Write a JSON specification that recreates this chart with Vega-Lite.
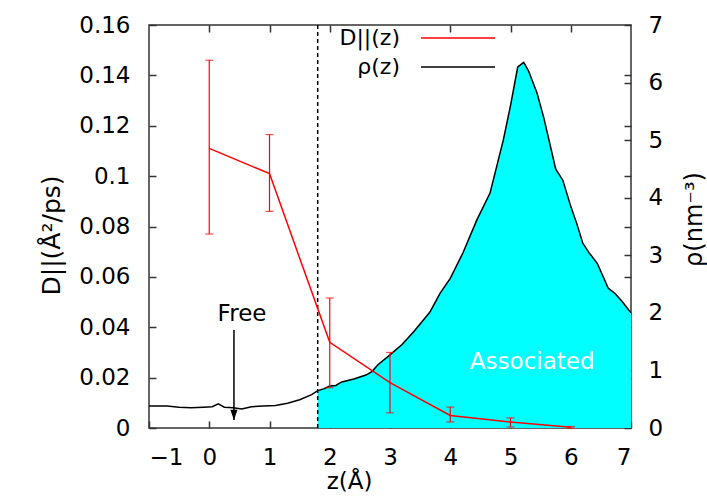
{
  "$schema": "https://vega.github.io/schema/vega-lite/v6.json",
  "width": 482,
  "height": 403,
  "autosize": "none",
  "padding": {"left": 149, "top": 25, "right": 76, "bottom": 70},
  "background": "white",
  "config": {
    "font": "DejaVu Sans",
    "view": {"stroke": "#333333", "strokeWidth": 1.5},
    "axis": {
      "labelFont": "DejaVu Sans", "labelFontSize": 23, "labelColor": "black", "labelOverlap": false,
      "titleFont": "DejaVu Sans", "titleFontWeight": "normal", "titleColor": "black", "titleFontSize": 23,
      "domain": false, "grid": false, "tickColor": "#333333", "tickSize": -7, "tickWidth": 1.5
    }
  },
  "datasets": {
    "rho": [
      {"z": -1.0, "rho": 0.38}, {"z": -0.85, "rho": 0.38}, {"z": -0.7, "rho": 0.38}, {"z": -0.5, "rho": 0.36},
      {"z": -0.3, "rho": 0.35}, {"z": -0.1, "rho": 0.36}, {"z": 0.05, "rho": 0.37}, {"z": 0.15, "rho": 0.42},
      {"z": 0.25, "rho": 0.36}, {"z": 0.4, "rho": 0.35}, {"z": 0.54, "rho": 0.33}, {"z": 0.7, "rho": 0.37},
      {"z": 0.9, "rho": 0.38}, {"z": 1.1, "rho": 0.39}, {"z": 1.3, "rho": 0.43}, {"z": 1.5, "rho": 0.49},
      {"z": 1.7, "rho": 0.58}, {"z": 1.8, "rho": 0.65}, {"z": 1.9, "rho": 0.68}, {"z": 2.0, "rho": 0.73},
      {"z": 2.1, "rho": 0.74}, {"z": 2.2, "rho": 0.8}, {"z": 2.4, "rho": 0.85}, {"z": 2.6, "rho": 0.92},
      {"z": 2.7, "rho": 0.98}, {"z": 2.8, "rho": 1.1}, {"z": 3.0, "rho": 1.27}, {"z": 3.2, "rho": 1.45},
      {"z": 3.4, "rho": 1.68}, {"z": 3.66, "rho": 2.01}, {"z": 3.83, "rho": 2.34}, {"z": 4.0, "rho": 2.6},
      {"z": 4.21, "rho": 3.04}, {"z": 4.44, "rho": 3.61}, {"z": 4.66, "rho": 4.08}, {"z": 4.88, "rho": 5.0},
      {"z": 5.0, "rho": 5.6}, {"z": 5.12, "rho": 6.27}, {"z": 5.22, "rho": 6.35}, {"z": 5.3, "rho": 6.2},
      {"z": 5.44, "rho": 5.82}, {"z": 5.55, "rho": 5.4}, {"z": 5.65, "rho": 4.95}, {"z": 5.75, "rho": 4.5},
      {"z": 5.87, "rho": 4.3}, {"z": 6.0, "rho": 3.85}, {"z": 6.1, "rho": 3.55}, {"z": 6.2, "rho": 3.21},
      {"z": 6.3, "rho": 3.05}, {"z": 6.44, "rho": 2.86}, {"z": 6.55, "rho": 2.6}, {"z": 6.62, "rho": 2.43},
      {"z": 6.73, "rho": 2.34}, {"z": 6.85, "rho": 2.2}, {"z": 7.0, "rho": 2.0}
    ],
    "diff": [
      {"z": 0, "D": 0.111, "lo": 0.077, "hi": 0.146},
      {"z": 1, "D": 0.101, "lo": 0.086, "hi": 0.1165},
      {"z": 2, "D": 0.034, "lo": 0.016, "hi": 0.0516},
      {"z": 3, "D": 0.018, "lo": 0.006, "hi": 0.030},
      {"z": 4, "D": 0.005, "lo": 0.0024, "hi": 0.0083},
      {"z": 5, "D": 0.0024, "lo": 0.0004, "hi": 0.004},
      {"z": 6, "D": 0.0003, "lo": 0.0, "hi": 0.0006}
    ],
    "cut": [{"z": 1.8}],
    "free": [{"label": "Free", "z": 0.544, "D": 0.0453, "top": 0.0389, "tip": 0.0032}],
    "assoc": [{"label": "Associated", "z": 5.36, "rho": 1.15}]
  },
  "resolve": {"scale": {"y": "independent"}, "axis": {"x": "independent"}},
  "layer": [
    {
      "data": {"name": "rho"},
      "layer": [
        {
          "transform": [{"filter": "datum.z >= 1.8"}],
          "mark": {"type": "area", "color": "#00ffff", "opacity": 1},
          "encoding": {
            "x": {"field": "z", "type": "quantitative", "scale": {"domain": [-1, 7], "nice": false, "zero": false},
                  "axis": {"orient": "top", "labels": false, "title": null, "values": [0, 1, 2, 4, 5, 6]}},
            "y": {"field": "rho", "type": "quantitative", "scale": {"domain": [0, 7], "nice": false},
                  "axis": {"orient": "right", "values": [0, 1, 2, 3, 4, 5, 6, 7], "format": "d", "labelPadding": 24,
                           "title": "ρ(nm⁻³)", "titleAngle": 270, "titleX": 63, "titleY": 194,
                           "titleAlign": "center", "titleBaseline": "middle", "titleFontSize": 24}}
          }
        },
        {
          "mark": {"type": "line", "strokeWidth": 1.5},
          "encoding": {
            "x": {"field": "z", "type": "quantitative"},
            "y": {"field": "rho", "type": "quantitative"},
            "color": {"datum": "ρ(z)", "type": "nominal"}
          }
        },
        {
          "data": {"name": "assoc"},
          "mark": {"type": "text", "color": "white", "fontSize": 23, "font": "DejaVu Sans", "align": "center", "baseline": "middle"},
          "encoding": {
            "x": {"field": "z", "type": "quantitative"},
            "y": {"field": "rho", "type": "quantitative"},
            "text": {"field": "label"}
          }
        }
      ]
    },
    {
      "data": {"name": "diff"},
      "resolve": {"axis": {"y": "independent"}},
      "layer": [
        {
          "data": {"name": "cut"},
          "mark": {"type": "rule", "color": "black", "strokeDash": [4, 3], "strokeWidth": 1.5},
          "encoding": {
            "x": {"field": "z", "type": "quantitative", "scale": {"domain": [-1, 7], "nice": false, "zero": false},
                  "axis": {"orient": "bottom", "values": [-1, 0, 1, 2, 3, 4, 5, 6, 7], "format": "d", "labelPadding": 25,
                           "title": "z(Å)", "titleX": 200, "titleY": 53, "titleAlign": "center", "titleBaseline": "middle"}}
          }
        },
        {
          "mark": {"type": "point", "opacity": 0},
          "encoding": {
            "x": {"field": "z", "type": "quantitative"},
            "y": {"field": "D", "type": "quantitative", "scale": {"domain": [0, 0.16], "nice": false},
                  "axis": {"orient": "right", "labels": false, "title": null, "values": [0.02, 0.04, 0.06, 0.08, 0.1, 0.12, 0.14]}}
          }
        },
        {
          "mark": {"type": "rule", "color": "#ff0000", "strokeWidth": 1.2},
          "encoding": {
            "x": {"field": "z", "type": "quantitative"},
            "y": {"field": "lo", "type": "quantitative", "axis": null},
            "y2": {"field": "hi"}
          }
        },
        {
          "mark": {"type": "tick", "orient": "horizontal", "size": 8, "thickness": 1.2, "color": "#ff0000"},
          "encoding": {
            "x": {"field": "z", "type": "quantitative"},
            "y": {"field": "lo", "type": "quantitative", "axis": null}
          }
        },
        {
          "mark": {"type": "tick", "orient": "horizontal", "size": 8, "thickness": 1.2, "color": "#ff0000"},
          "encoding": {
            "x": {"field": "z", "type": "quantitative"},
            "y": {"field": "hi", "type": "quantitative", "axis": null}
          }
        },
        {
          "mark": {"type": "line", "strokeWidth": 1.5},
          "encoding": {
            "x": {"field": "z", "type": "quantitative"},
            "y": {"field": "D", "type": "quantitative",
                  "axis": {"orient": "left", "values": [0, 0.02, 0.04, 0.06, 0.08, 0.1, 0.12, 0.14, 0.16], "format": "~g",
                           "labelPadding": 26, "title": "D||(Å²/ps)", "titleAngle": 270, "titleX": -98, "titleY": 210,
                           "titleAlign": "center", "titleBaseline": "middle", "titleFontSize": 25}},
            "color": {"datum": "D||(z)", "type": "nominal",
                      "scale": {"domain": ["D||(z)", "ρ(z)"], "range": ["#ff0000", "#000000"]},
                      "legend": {"orient": "none", "legendX": 298, "legendY": 2, "title": null, "padding": 0,
                                 "symbolType": "M-37,0L37,0", "symbolSize": 4, "symbolStrokeWidth": 1.5,
                                 "labelAlign": "right", "labelOffset": -69, "labelFontSize": 22, "labelFont": "DejaVu Sans",
                                 "labelColor": "black", "labelBaseline": "middle", "rowPadding": 7}}
          }
        },
        {
          "data": {"name": "free"},
          "mark": {"type": "rule", "color": "black", "strokeWidth": 1.5},
          "encoding": {
            "x": {"datum": 0.41, "type": "quantitative"},
            "y": {"field": "top", "type": "quantitative", "axis": null},
            "y2": {"field": "tip"}
          }
        },
        {
          "data": {"name": "free"},
          "mark": {"type": "point", "shape": "M0,0L-0.6,-1.7L0.6,-1.7Z", "filled": true, "color": "black", "size": 144, "opacity": 1},
          "encoding": {
            "x": {"datum": 0.41, "type": "quantitative"},
            "y": {"field": "tip", "type": "quantitative", "axis": null}
          }
        },
        {
          "data": {"name": "free"},
          "mark": {"type": "text", "color": "black", "fontSize": 23, "font": "DejaVu Sans", "align": "center", "baseline": "middle"},
          "encoding": {
            "x": {"field": "z", "type": "quantitative"},
            "y": {"field": "D", "type": "quantitative", "axis": null},
            "text": {"field": "label"}
          }
        }
      ]
    }
  ]
}
